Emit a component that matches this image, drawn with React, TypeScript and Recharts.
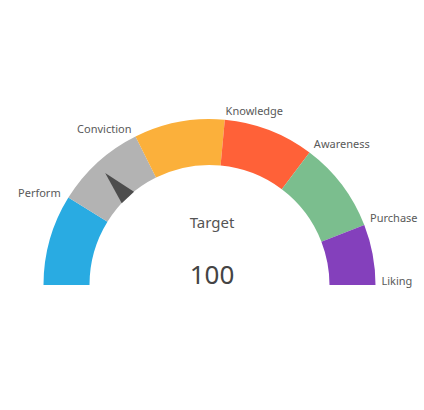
import React from 'react'
import { PieChart, Pie, Cell } from 'recharts'

// gauge bands, in order from the left end of the arc
const stages = ['Perform', 'Conviction', 'Knowledge', 'Awareness', 'Purchase', 'Liking']
const bandSizes = [15, 15, 15, 15, 15, 10]
const bandColors = ['#29ABE2', '#B3B3B3', '#FBB03B', '#FF6138', '#7BBE8E', '#8440BC']

const pointerValue = 22.2
const targetLabel = 'Target'
const targetValue = 100

const bands = stages.map((name, i) => ({ name, value: bandSizes[i] }))
const total = bandSizes.reduce((a, b) => a + b, 0)
const pointerData = [
  { name: 'pointer', value: pointerValue },
  { name: 'rest', value: total - pointerValue },
]

const RAD = Math.PI / 180
const font = '"Noto Sans", "Open Sans", sans-serif'

const renderStageLabel = (props: any) => {
  const { cx, cy, outerRadius, endAngle, index } = props
  const r = outerRadius + 9
  const c = Math.cos(endAngle * RAD)
  const s = Math.sin(endAngle * RAD)
  const right = c > -0.05
  const x = cx + r * c - (right ? 3 * c * c : 0)
  const y = cy - r * s - (right ? 5 * c * c : 0)
  return (
    <text
      key={'lbl' + index}
      x={x}
      y={y}
      textAnchor={right ? 'start' : 'end'}
      dominantBaseline="central"
      fill="#595959"
      fontSize={11}
      fontFamily={font}
    >
      {stages[index]}
    </text>
  )
}

const renderPointer = (props: any) => {
  const { cx, cy, innerRadius, endAngle, index } = props
  if (index !== 0) return null
  const tip = 153
  const half = 4
  const pt = (r: number, a: number) =>
    `${cx + r * Math.cos(a * RAD)},${cy - r * Math.sin(a * RAD)}`
  const points = [pt(tip, endAngle), pt(innerRadius, endAngle + half), pt(innerRadius, endAngle - half)].join(' ')
  return <polygon key="needle" points={points} fill="#4D4D4D" />
}

export default function App() {
  return (
    <div style={{ position: 'absolute', left: 0, top: 0, width: 424, height: 410, background: '#fff' }}>
      <PieChart width={424} height={410} margin={{ top: 0, right: 0, bottom: 0, left: 0 }}>
        <Pie
          data={bands}
          dataKey="value"
          cx={209.5}
          cy={285}
          startAngle={180}
          endAngle={0}
          innerRadius={120}
          outerRadius={166}
          stroke="none"
          label={renderStageLabel}
          labelLine={false}
          isAnimationActive={false}
        >
          {bands.map((b, i) => (
            <Cell key={b.name} fill={bandColors[i]} />
          ))}
        </Pie>
        <Pie
          data={pointerData}
          dataKey="value"
          cx={209.5}
          cy={285}
          startAngle={180}
          endAngle={0}
          innerRadius={120}
          outerRadius={153}
          fill="none"
          stroke="none"
          label={renderPointer}
          labelLine={false}
          isAnimationActive={false}
        />
        <text x={212} y={222} textAnchor="middle" dominantBaseline="central" fontSize={15} fill="#555" fontFamily={font}>
          {targetLabel}
        </text>
        <text x={212} y={274} textAnchor="middle" dominantBaseline="central" fontSize={26} fill="#444" fontFamily={font}>
          {targetValue}
        </text>
      </PieChart>
    </div>
  )
}
